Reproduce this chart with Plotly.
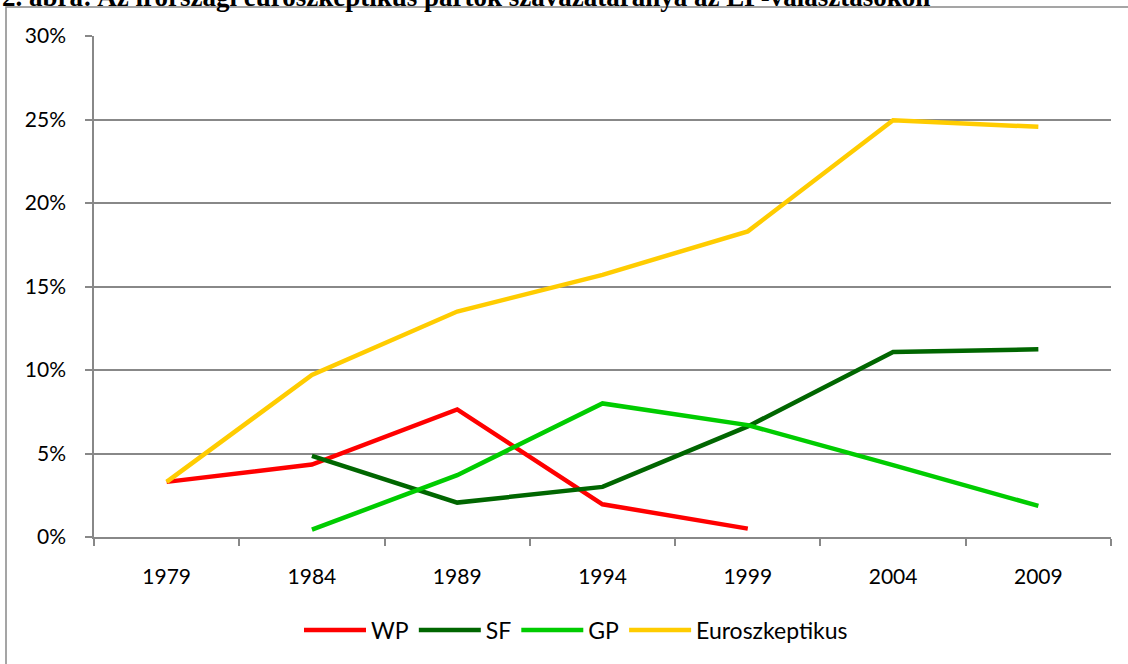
import plotly.graph_objects as go

years = ["1979", "1984", "1989", "1994", "1999", "2004", "2009"]
wp = [0.033, 0.0434, 0.0764, 0.0196, 0.005, None, None]
sf = [None, 0.0486, 0.0206, 0.030, 0.0662, 0.1108, 0.1124]
gp = [None, 0.0044, 0.037, 0.080, 0.067, 0.043, 0.0186]
euro = [0.033, 0.097, 0.135, 0.157, 0.183, 0.2496, 0.2456]
y_ticks = [0, 0.05, 0.10, 0.15, 0.20, 0.25, 0.30]

series = [
    ("WP", wp, "#FF0000"),
    ("SF", sf, "#006600"),
    ("GP", gp, "#00CC00"),
    ("Euroszkeptikus", euro, "#FFCC00"),
]

fig = go.Figure()
for name, vals, color in series:
    fig.add_trace(go.Scatter(
        x=years, y=vals, name=name, mode="lines",
        line=dict(color=color, width=4.5),
        connectgaps=False,
    ))

font_family = "Lato, Open Sans, sans-serif"
W, H = 1128, 664
L, R, T, B = 94, 1111, 36, 537
pw, ph = R - L, B - T

def px_x(x):
    return (x - L) / pw

def px_y(y):
    return (B - y) / ph

fig.update_layout(
    width=W, height=H, autosize=False,
    margin=dict(l=L, r=W - R, t=T, b=H - B, autoexpand=False),
    paper_bgcolor="white", plot_bgcolor="white",
    font=dict(family=font_family, size=21, color="black"),
    showlegend=True,
    legend=dict(
        orientation="h", x=px_x(576), xanchor="center", y=px_y(630), yanchor="middle",
        font=dict(size=23), itemwidth=62, traceorder="normal",
        bgcolor="rgba(0,0,0,0)",
    ),
    xaxis=dict(
        type="category", range=[-0.5, 6.5], tickson="boundaries",
        ticks="outside", ticklen=7,
        tickcolor="#888888", tickwidth=1.5,
        showline=True, linecolor="#888888", linewidth=1.5,
        showgrid=False, zeroline=False,
        tickfont=dict(size=21), ticklabelstandoff=20,
    ),
    yaxis=dict(
        range=[0, 0.30], tickvals=y_ticks,
        tickformat=".0%", ticks="outside", ticklen=7,
        tickcolor="#888888", tickwidth=1.5,
        showline=True, linecolor="#888888", linewidth=1.5,
        showgrid=True, gridcolor="#888888", gridwidth=1.5,
        zeroline=False, tickfont=dict(size=21), ticklabelstandoff=15,
    ),
)

# outer chart border
fig.add_shape(
    type="rect", xref="paper", yref="paper",
    x0=px_x(6), x1=px_x(1200), y0=px_y(720), y1=px_y(7),
    line=dict(color="#888888", width=1.5), fillcolor="rgba(0,0,0,0)",
    layer="below",
)

# page caption, cut off at top edge
fig.add_annotation(
    text="2. ábra: Az írországi euroszkeptikus pártok szavazataránya az EP-választásokon",
    xref="paper", yref="paper", x=px_x(0), y=px_y(-3),
    xanchor="left", yanchor="middle", showarrow=False,
    font=dict(family="Liberation Serif, Times New Roman, serif", size=27,
              color="black", weight="bold"),
)

fig.write_html(
    "out.html",
    config={"displayModeBar": False},
    post_script="document.body.style.margin='0';document.body.style.overflow='hidden';",
)
